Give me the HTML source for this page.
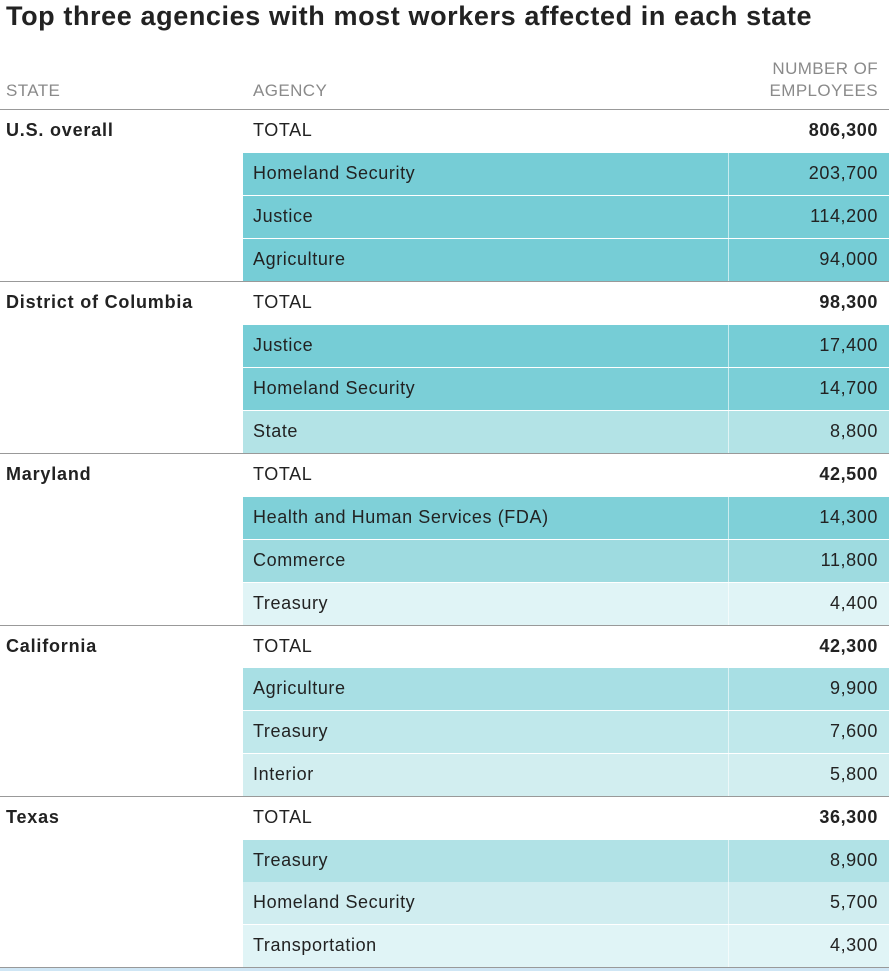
<!DOCTYPE html>
<html><head><meta charset="utf-8"><style>
body{margin:0;width:889px;height:971px;background:#fff;font-family:"Liberation Sans",sans-serif;color:#222;position:relative;overflow:hidden}
.t{position:absolute;left:6px;top:1px;font-size:27px;font-weight:bold;letter-spacing:0.6px;color:#222}
.h{position:absolute;color:#8a8a8a;font-size:17px;line-height:22px;letter-spacing:0.4px}
.row{position:absolute;left:0;width:889px;height:42px;font-size:18px;letter-spacing:0.6px}
.row span{position:absolute;top:10px}
.st{left:6px;font-weight:bold;letter-spacing:0.8px}
.ag{left:253px}
.num{right:11px}
.c{position:absolute;left:243px;width:646px;height:42px}
.c:after{content:"";position:absolute;left:485px;top:0;width:1px;height:42px;background:rgba(255,255,255,.6)}
.sep{position:absolute;left:0;width:889px;height:1px;background:#999}
</style></head><body>
<div class="t">Top three agencies with most workers affected in each state</div>
<div class="h" style="left:6px;top:80px">STATE</div>
<div class="h" style="left:253px;top:80px">AGENCY</div>
<div class="h" style="right:11px;top:58px;text-align:right">NUMBER OF<br>EMPLOYEES</div>
<div class="sep" style="top:109px"></div>

<div class="row" style="top:110px"><span class="st">U.S. overall</span><span class="ag">TOTAL</span><span class="num" style="font-weight:bold">806,300</span></div>
<div class="c" style="top:153px;background:#76cdd6"></div><div class="row" style="top:153px"><span class="ag">Homeland Security</span><span class="num">203,700</span></div>
<div class="c" style="top:196px;background:#76cdd6"></div><div class="row" style="top:196px"><span class="ag">Justice</span><span class="num">114,200</span></div>
<div class="c" style="top:239px;background:#76cdd6"></div><div class="row" style="top:239px"><span class="ag">Agriculture</span><span class="num">94,000</span></div>
<div class="sep" style="top:281px"></div>

<div class="row" style="top:282px"><span class="st">District of Columbia</span><span class="ag">TOTAL</span><span class="num" style="font-weight:bold">98,300</span></div>
<div class="c" style="top:325px;background:#76cdd6"></div><div class="row" style="top:325px"><span class="ag">Justice</span><span class="num">17,400</span></div>
<div class="c" style="top:368px;background:#7bcfd7"></div><div class="row" style="top:368px"><span class="ag">Homeland Security</span><span class="num">14,700</span></div>
<div class="c" style="top:411px;background:#b3e3e6"></div><div class="row" style="top:411px"><span class="ag">State</span><span class="num">8,800</span></div>
<div class="sep" style="top:453px"></div>

<div class="row" style="top:454px"><span class="st">Maryland</span><span class="ag">TOTAL</span><span class="num" style="font-weight:bold">42,500</span></div>
<div class="c" style="top:497px;background:#7fd0d8"></div><div class="row" style="top:497px"><span class="ag">Health and Human Services (FDA)</span><span class="num">14,300</span></div>
<div class="c" style="top:540px;background:#9edbe0"></div><div class="row" style="top:540px"><span class="ag">Commerce</span><span class="num">11,800</span></div>
<div class="c" style="top:583px;background:#e0f4f6"></div><div class="row" style="top:583px"><span class="ag">Treasury</span><span class="num">4,400</span></div>
<div class="sep" style="top:625px"></div>

<div class="row" style="top:626px"><span class="st">California</span><span class="ag">TOTAL</span><span class="num" style="font-weight:bold">42,300</span></div>
<div class="c" style="top:668px;background:#a8dfe4"></div><div class="row" style="top:668px"><span class="ag">Agriculture</span><span class="num">9,900</span></div>
<div class="c" style="top:711px;background:#c0e8eb"></div><div class="row" style="top:711px"><span class="ag">Treasury</span><span class="num">7,600</span></div>
<div class="c" style="top:754px;background:#d2eef0"></div><div class="row" style="top:754px"><span class="ag">Interior</span><span class="num">5,800</span></div>
<div class="sep" style="top:796px"></div>

<div class="row" style="top:797px"><span class="st">Texas</span><span class="ag">TOTAL</span><span class="num" style="font-weight:bold">36,300</span></div>
<div class="c" style="top:840px;background:#b1e2e6"></div><div class="row" style="top:840px"><span class="ag">Treasury</span><span class="num">8,900</span></div>
<div class="c" style="top:882px;background:#d0edf0"></div><div class="row" style="top:882px"><span class="ag">Homeland Security</span><span class="num">5,700</span></div>
<div class="c" style="top:925px;background:#e0f4f6"></div><div class="row" style="top:925px"><span class="ag">Transportation</span><span class="num">4,300</span></div>
<div class="sep" style="top:967px"></div>
<div style="position:absolute;left:0;top:968px;width:889px;height:3px;background:#cfe6f5"></div>
</body></html>
